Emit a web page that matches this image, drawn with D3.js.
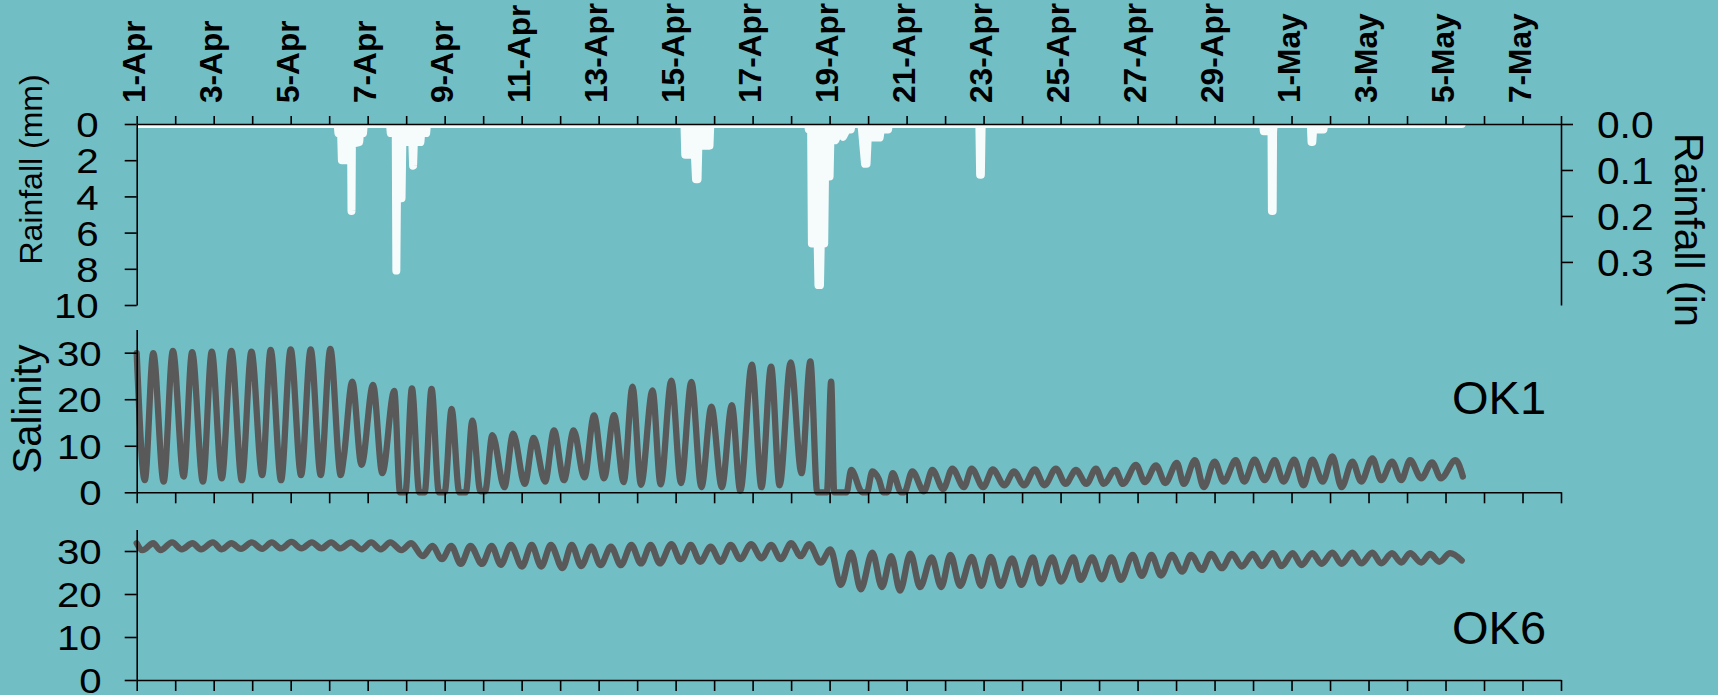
<!DOCTYPE html>
<html>
<head>
<meta charset="utf-8">
<script src="https://cdn.jsdelivr.net/npm/d3@7"></script>
<style>
  html, body { margin: 0; padding: 0; background: #71bec5; }
  svg { display: block; }
  text { font-family: "Liberation Sans", Arial, sans-serif; fill: #000; }
</style>
</head>
<body>
<svg id="chart" width="1718" height="695"></svg>
<script>
// ---- Data -------------------------------------------------------------
// Time is counted in days from 1 April 00:00.
const dateLabels = ["1-Apr","3-Apr","5-Apr","7-Apr","9-Apr","11-Apr","13-Apr","15-Apr","17-Apr","19-Apr",
                    "21-Apr","23-Apr","25-Apr","27-Apr","29-Apr","1-May","3-May","5-May","7-May"];
const dayTicks = d3.range(0, 38);           // 1-Apr .. 8-May, one tick per day

const rainMmTicks = [0, 2, 4, 6, 8, 10];
const rainInTicks = [0, 0.1, 0.2, 0.3];
const salinityTicks = [0, 10, 20, 30];

// Rainfall record (mm)
const rainDay = [0,
  5.22, 5.24, 5.31, 5.33, 5.43, 5.46, 5.57, 5.58, 5.59, 5.78, 5.80, 5.88, 5.90,
  6.58, 6.60, 6.73, 6.745, 6.76, 6.88, 6.90, 7.16, 7.18, 7.20, 7.37, 7.39, 7.52, 7.54,
  14.23, 14.25, 14.50, 14.53, 14.57, 14.59, 14.88, 14.90,
  17.44, 17.46, 17.52, 17.54, 17.69, 17.71, 17.75, 17.77, 17.86, 17.88, 18.00, 18.02, 18.10, 18.15, 18.25, 18.35, 18.45, 18.55, 18.57,
  18.82, 18.84, 18.92, 18.96, 19.00, 19.08, 19.10, 19.30, 19.33, 19.52, 19.54,
  21.89, 21.91, 21.93, 21.95,
  29.26, 29.28, 29.48, 29.49, 29.51, 29.52, 29.54,
  30.50, 30.52, 30.54, 30.56, 30.83, 30.85,
  34.42];
const rainMm = [0,
  0, 0.5, 0.5, 2.0, 2.0, 1.1, 1.1, 4.8, 1.1, 1.0, 0.5, 0.5, 0,
  0, 0.5, 0.5, 8.1, 4.1, 4.1, 1.0, 1.0, 2.3, 1.0, 1.0, 0.5, 0.5, 0,
  0, 1.7, 1.7, 3.05, 3.05, 1.2, 1.2, 0,
  0, 0.3, 0.3, 6.6, 6.6, 8.9, 8.9, 6.6, 6.6, 2.9, 2.9, 0.8, 0.5, 0.9, 0.4, 0.7, 0.3, 0.3, 0,
  0, 0.3, 2.2, 2.2, 0.3, 0.3, 0.75, 0.75, 0.3, 0.3, 0,
  0, 2.8, 2.8, 0,
  0, 0.4, 0.4, 4.8, 4.8, 0.4, 0,
  0, 1.0, 1.0, 0.3, 0.3, 0,
  0];

// Salinity at OK1
const ok1Day = [0.00,0.21,0.43,0.70,0.94,1.22,1.44,1.72,1.95,2.21,
  2.46,2.73,2.98,3.26,3.48,3.75,4.00,4.27,4.52,4.78,
  5.03,5.30,5.38,5.60,5.84,6.14,6.38,6.69,6.84,6.98,
  7.15,7.34,7.48,7.66,7.85,8.00,8.18,8.38,8.55,8.72,
  8.93,9.05,9.24,9.55,9.78,10.08,10.31,10.61,10.84,11.10,
  11.35,11.63,11.88,12.14,12.40,12.65,12.88,13.10,13.40,13.61,
  13.89,14.14,14.41,14.67,14.93,15.20,15.46,15.68,15.98,16.23,
  16.48,16.70,16.99,17.27,17.50,17.68,17.93,18.04,18.12,18.44,
  18.56,18.85,18.97,19.11,19.28,19.40,19.50,19.64,19.86,19.94,
  20.15,20.45,20.67,20.95,21.19,21.49,21.69,21.99,22.24,22.54,
  22.79,23.05,23.33,23.58,23.88,24.13,24.40,24.67,24.92,25.12,
  25.42,25.62,25.96,26.19,26.48,26.72,27.02,27.20,27.49,27.72,
  28.00,28.24,28.55,28.77,29.04,29.30,29.56,29.79,30.07,30.31,
  30.54,30.81,31.06,31.30,31.58,31.81,32.10,32.33,32.61,32.85,
  33.08,33.37,33.65,33.88,34.26,34.45];
const ok1Sal = [29.9,2.6,29.9,2.3,30.4,3.4,30.1,2.3,30.2,3.0,
  30.4,2.6,30.2,3.7,30.6,2.6,30.7,3.7,30.7,3.7,
  30.8,3.7,7.5,23.8,5.9,23.1,4.1,21.8,0,0,
  22.3,0,0,22.2,0,0,17.9,0,0,15.4,
  0.2,0.2,12.3,1.1,12.6,1.8,11.7,2.3,13.3,2.6,
  13.3,3.2,16.5,3.0,16.6,2.2,22.7,1.6,21.9,1.7,
  24.0,2.0,23.7,1.1,18.4,1.1,18.7,0.3,27.4,1.1,
  27.0,1.5,27.9,4.1,28.1,0,0,23.8,0,0,
  4.8,0,0,4.5,2.8,0,0,4.1,0,0,
  4.5,0.2,4.8,0.7,5.1,1.1,5.1,1.1,4.9,1.5,
  4.5,1.5,4.9,1.5,5.1,1.8,4.8,1.8,5.1,1.8,
  4.8,1.8,5.9,2.2,5.8,2.0,6.3,1.8,6.9,1.1,
  6.6,2.3,6.9,2.3,7.0,2.6,6.9,2.3,7.0,1.5,
  7.0,2.3,7.7,1.1,6.6,2.3,7.3,2.6,6.6,2.6,
  6.9,3.0,6.4,3.0,6.9,3.4];

// Salinity at OK6
const ok6Day = [0.00,0.15,0.43,0.62,0.92,1.17,1.45,1.67,1.98,2.21,
  2.46,2.71,2.99,3.26,3.51,3.75,4.02,4.28,4.55,4.80,
  5.05,5.29,5.57,5.84,6.09,6.34,6.59,6.88,7.13,7.43,
  7.68,7.93,8.17,8.42,8.67,8.97,9.22,9.46,9.72,10.01,
  10.26,10.51,10.76,11.06,11.30,11.55,11.81,12.05,12.32,12.58,
  12.85,13.10,13.35,13.59,13.89,14.14,14.39,14.64,14.91,15.17,
  15.43,15.68,15.96,16.23,16.48,16.73,17.00,17.25,17.47,17.77,
  18.02,18.29,18.56,18.81,19.11,19.36,19.60,19.83,20.10,20.35,
  20.65,20.90,21.14,21.39,21.69,21.94,22.19,22.44,22.74,22.98,
  23.28,23.48,23.78,24.01,24.33,24.52,24.82,25.07,25.32,25.57,
  25.87,26.11,26.36,26.61,26.89,27.16,27.39,27.67,27.91,28.19,
  28.45,28.71,28.99,29.23,29.51,29.74,30.03,30.26,30.54,30.78,
  31.06,31.30,31.58,31.81,32.10,32.33,32.61,32.85,33.08,33.37,
  33.60,33.84,34.12,34.42];
const ok6Sal = [31.8,30.2,31.8,30.2,32.0,30.4,31.8,30.4,32.0,30.4,
  31.8,30.5,32.0,30.5,32.0,30.6,32.1,30.6,32.0,30.6,
  32.0,30.6,32.0,30.4,32.0,30.4,32.0,30.2,31.8,28.8,
  31.2,28.1,31.2,27.0,31.2,27.0,31.2,26.8,31.4,26.4,
  31.4,26.4,31.4,26.0,31.4,26.5,31.0,26.7,31.0,26.7,
  31.4,27.1,31.4,27.1,31.6,27.5,31.4,27.5,31.0,27.5,
  31.4,28.1,31.6,28.3,31.4,28.1,31.8,28.8,31.6,27.3,
  30.4,22.1,29.6,21.1,29.6,21.6,28.8,20.8,29.4,21.6,
  28.5,21.6,29.1,21.9,28.6,21.9,28.6,21.9,28.3,22.1,
  28.5,22.5,28.5,22.9,28.5,23.3,28.5,23.4,28.5,23.3,
  29.1,24.2,29.1,24.3,29.1,25.2,29.1,25.6,29.3,26.0,
  29.3,26.4,29.3,26.5,29.5,26.5,29.5,26.7,29.5,27.0,
  29.6,27.0,29.6,27.1,29.6,27.1,29.5,27.3,29.5,27.3,
  29.3,27.5,29.5,27.8];

// ---- Layout ------------------------------------------------------------
const svg = d3.select("#chart");
const X0 = 136.7, X1 = 1561;
const rain = { top: 124, bottom: 305 };
const sal1 = { top: 329.4, bottom: 492.3 };
const sal2 = { top: 529.5, bottom: 680 };

const x = d3.scaleLinear().domain([0, 37]).range([X0, X1]);
const yRain = d3.scaleLinear().domain([0, 10]).range([rain.top, rain.bottom]);
const yRainIn = d3.scaleLinear().domain([0, 10 / 25.4]).range([rain.top, rain.bottom]);
const yS1 = d3.scaleLinear().domain([0, 35]).range([sal1.bottom, sal1.top]);
const yS2 = d3.scaleLinear().domain([0, 35]).range([sal2.bottom, sal2.top]);

const AXIS_W = 1.6;
function styleAxis(g) {
  g.select(".domain").attr("stroke", "#000").attr("stroke-width", AXIS_W);
  g.selectAll(".tick line").attr("stroke", "#000").attr("stroke-width", AXIS_W);
}

// ---- Rainfall panel ------------------------------------------------------
svg.append("clipPath").attr("id", "rainClip")
  .append("rect").attr("x", X0).attr("y", rain.top + 0.5)
  .attr("width", X1 - X0).attr("height", rain.bottom - rain.top);

const RAIN_COL = "#f6fbfc";
const rainArea = d3.area()
  .x((d, i) => x(rainDay[i])).y0(yRain(0)).y1((d, i) => yRain(rainMm[i]));
const rainLine = d3.line().x((d, i) => x(rainDay[i])).y((d, i) => yRain(rainMm[i]));
const rainG = svg.append("g").attr("clip-path", "url(#rainClip)");
rainG.append("path").attr("d", rainArea(rainDay)).attr("fill", RAIN_COL);
rainG.append("path").attr("d", rainLine(rainDay))
  .attr("fill", "none").attr("stroke", RAIN_COL).attr("stroke-width", 8)
  .attr("stroke-linejoin", "round").attr("stroke-linecap", "round");

// top date axis
const topAxis = svg.append("g").attr("transform", `translate(0,${rain.top})`)
  .call(d3.axisTop(x).tickValues(dayTicks).tickSize(8).tickSizeOuter(0)
    .tickFormat(d => d % 2 === 0 ? dateLabels[d / 2] : ""));
styleAxis(topAxis);
const DS = 1.02;
topAxis.selectAll(".tick text")
  .attr("transform", `rotate(-90) scale(${DS},1)`)
  .attr("x", 21 / DS).attr("y", 0).attr("dy", "0.25em")
  .style("text-anchor", "start").style("font-weight", "bold").style("font-size", "31px");

// left mm axis
const NS = 1.15;
const leftRain = svg.append("g").attr("transform", `translate(${X0},0)`)
  .call(d3.axisLeft(yRain).tickValues(rainMmTicks).tickSize(12).tickSizeOuter(0));
styleAxis(leftRain);
leftRain.selectAll(".tick text")
  .attr("transform", `scale(${NS},1)`).attr("x", -38 / NS).attr("dy", "0.36em")
  .style("font-size", "35px");

// right inch axis
const RS = 1.1;
const rightRain = svg.append("g").attr("transform", `translate(${X1},0)`)
  .call(d3.axisRight(yRainIn).tickValues(rainInTicks).tickSize(12).tickSizeOuter(0)
    .tickFormat(d3.format(".1f")));
styleAxis(rightRain);
rightRain.selectAll(".tick text")
  .attr("transform", `scale(${RS},1)`).attr("x", 36 / RS).attr("dy", "0.36em")
  .style("text-anchor", "start").style("font-size", "37px");

svg.append("text")
  .attr("transform", `translate(33.5,169.5) rotate(-90)`)
  .attr("dy", "0.253em").style("text-anchor", "middle").style("font-size", "32px")
  .text("Rainfall (mm)");
svg.append("text")
  .attr("transform", `translate(1685,133) rotate(90)`)
  .attr("dy", "0.253em").style("text-anchor", "start").style("font-size", "41px")
  .text("Rainfall (in");

// ---- Salinity panels ------------------------------------------------------
function salinityPanel(days, vals, y, box, name, nameY) {
  const line = d3.line().curve(d3.curveMonotoneX)
    .x((d, i) => x(days[i])).y((d, i) => y(vals[i]));
  svg.append("path").attr("d", line(days))
    .attr("fill", "none").attr("stroke", "#595959").attr("stroke-width", 6.3)
    .attr("stroke-linejoin", "round").attr("stroke-linecap", "round");

  const bottom = svg.append("g").attr("transform", `translate(0,${box.bottom})`)
    .call(d3.axisBottom(x).tickValues(dayTicks).tickSize(11).tickSizeOuter(0).tickFormat(""));
  styleAxis(bottom);

  const left = svg.append("g").attr("transform", `translate(${X0},0)`)
    .call(d3.axisLeft(y).tickValues(salinityTicks).tickSize(12).tickSizeOuter(0));
  styleAxis(left);
  left.selectAll(".tick text")
    .attr("transform", `scale(${NS},1)`).attr("x", -35 / NS).attr("dy", "0.36em")
    .style("font-size", "35px");

  svg.append("text").attr("x", 1452).attr("y", nameY)
    .style("font-size", "47px").text(name);
}

salinityPanel(ok1Day, ok1Sal, yS1, sal1, "OK1", 414);
salinityPanel(ok6Day, ok6Sal, yS2, sal2, "OK6", 644);

svg.append("text")
  .attr("transform", `translate(30.6,409) rotate(-90)`)
  .attr("dy", "0.253em").style("text-anchor", "middle").style("font-size", "40px")
  .text("Salinity");
</script>
</body>
</html>
